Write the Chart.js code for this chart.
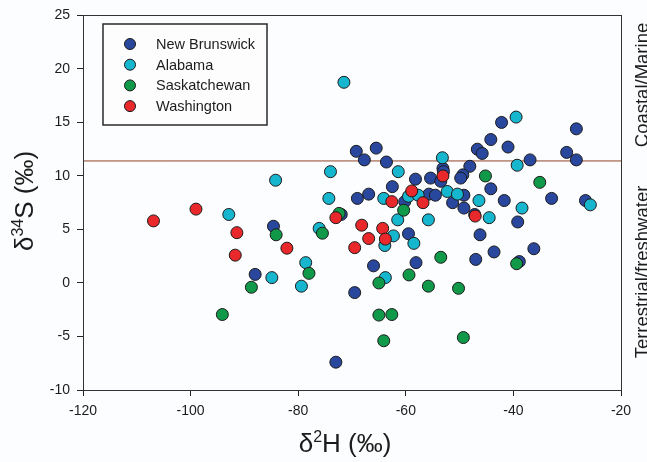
<!DOCTYPE html>
<html>
<head>
<meta charset="utf-8">
<script src="https://cdn.jsdelivr.net/npm/chart.js@4.4.1/dist/chart.umd.min.js"></script>
<style>
  html, body { margin: 0; padding: 0; background: #fcfdfe; }
  #wrap { width: 647px; height: 462px; }
</style>
</head>
<body>
<div id="wrap"><canvas id="chart" width="647" height="462"></canvas></div>
<script>
// d2H (x) , d34S (y) pairs
const newBrunswick = [
  [-84.6, 5.3], [-88.0, 0.8], [-69.2, 12.3], [-65.5, 12.6], [-67.7, 11.5],
  [-63.6, 11.3], [-58.2, 9.7], [-62.5, 9.0], [-66.9, 8.3], [-69.0, 7.9],
  [-72.0, 6.4], [-60.2, 7.6], [-55.7, 8.3], [-54.5, 8.2], [-49.2, 8.2],
  [-51.3, 7.5], [-49.2, 7.0], [-55.4, 9.8], [-53.1, 10.7], [-53.0, 10.4],
  [-53.5, 9.5], [-48.1, 10.9], [-49.4, 10.1], [-49.8, 9.8], [-46.7, 12.5],
  [-45.8, 12.1], [-44.2, 13.4], [-42.2, 15.0], [-41.0, 12.7], [-36.9, 11.5],
  [-30.1, 12.2], [-28.3, 11.5], [-28.3, 14.4], [-44.2, 8.8], [-41.7, 7.7],
  [-32.9, 7.9], [-26.6, 7.7], [-39.2, 5.7], [-47.2, 6.4], [-46.2, 4.5],
  [-59.5, 4.6], [-43.6, 2.9], [-47.0, 2.2], [-38.9, 2.0], [-36.2, 3.2],
  [-58.1, 1.9], [-66.0, 1.6], [-69.5, -0.9], [-73.0, -7.4]
];
const alabama = [
  [-71.5, 18.75], [-74.0, 10.4], [-61.4, 10.4], [-53.2, 11.7], [-39.5, 15.5],
  [-39.3, 11.0], [-74.3, 7.9], [-92.9, 6.4], [-84.2, 9.6], [-64.1, 7.9],
  [-59.5, 8.1], [-57.7, 8.2], [-52.3, 8.55], [-50.4, 8.3], [-46.4, 7.7],
  [-38.4, 7.0], [-25.7, 7.3], [-61.5, 5.9], [-55.8, 5.9], [-44.5, 6.1],
  [-76.1, 5.1], [-62.3, 4.4], [-58.5, 3.7], [-63.9, 3.5], [-78.6, 1.9],
  [-84.9, 0.5], [-79.4, -0.3], [-63.8, 0.5]
];
const saskatchewan = [
  [-84.1, 4.5], [-78.0, 0.9], [-88.7, -0.4], [-94.1, -2.95], [-75.5, 4.65],
  [-72.4, 6.5], [-60.4, 6.8], [-45.2, 10.0], [-35.1, 9.4], [-53.5, 2.4],
  [-39.4, 1.8], [-65.0, 0.0], [-59.4, 0.75], [-55.8, -0.3], [-50.2, -0.5],
  [-65.0, -3.0], [-62.6, -2.95], [-64.1, -5.4], [-49.3, -5.1]
];
const washington = [
  [-106.9, 5.8], [-99.0, 6.9], [-91.4, 4.7], [-82.1, 3.25], [-91.7, 2.6],
  [-73.0, 6.1], [-68.2, 5.4], [-64.3, 5.1], [-66.9, 4.15], [-63.8, 4.1],
  [-69.5, 3.3], [-62.6, 7.6], [-58.9, 8.6], [-56.8, 7.5], [-53.1, 10.0],
  [-47.1, 6.25]
];
const seriesNames = ['New Brunswick', 'Alabama', 'Saskatchewan', 'Washington'];
const xTicks = [-120, -100, -80, -60, -40, -20];
const yTicks = [-10, -5, 0, 5, 10, 15, 20, 25];
const marineBoundary = 11.4;
const zoneLabels = ['Coastal/Marine', 'Terrestrial/freshwater'];

const FONT = '"Liberation Sans", Arial, sans-serif';
const INK = '#1c1c1c';
const colors = ['#2a479e', '#17b6cf', '#11994a', '#e8282b'];

function pts(arr) {
  return arr.map(p => ({ x: p[0], y: p[1] }));
}

const seriesData = [newBrunswick, alabama, saskatchewan, washington];
const datasets = seriesData.map((arr, i) => ({
  label: seriesNames[i],
  data: pts(arr),
  backgroundColor: colors[i],
  borderColor: '#1a1a1a',
  borderWidth: 1,
  pointRadius: 6,
  pointHoverRadius: 6,
  order: 4 - i
}));
datasets.push({
  type: 'line',
  label: 'boundary',
  data: [{ x: -120, y: marineBoundary }, { x: -20, y: marineBoundary }],
  borderColor: '#8e4429',
  borderWidth: 1,
  pointRadius: 0,
  order: 10
});

// draw text with a superscript part, centred at (0,0) of the current transform
function drawSupText(ctx, parts, size) {
  const subSize = Math.round(size * 0.62);
  let total = 0;
  parts.forEach(p => {
    ctx.font = (p.sup ? subSize : size) + 'px ' + FONT;
    p.w = ctx.measureText(p.t).width;
    total += p.w;
  });
  let x = -total / 2;
  parts.forEach(p => {
    ctx.font = (p.sup ? subSize : size) + 'px ' + FONT;
    ctx.fillText(p.t, x, p.sup ? -size * 0.38 : 0);
    x += p.w;
  });
}

const decor = {
  id: 'decor',
  afterDraw(chart) {
    const ctx = chart.ctx;
    const a = chart.chartArea;
    ctx.save();
    // frame
    ctx.strokeStyle = '#333';
    ctx.lineWidth = 1;
    ctx.strokeRect(Math.round(a.left) + 0.5, Math.round(a.top) + 0.5,
      Math.round(a.right - a.left), Math.round(a.bottom - a.top));

    // legend
    ctx.fillStyle = '#fdfdfe';
    ctx.fillRect(103, 24, 164, 101);
    ctx.lineWidth = 1.5;
    ctx.strokeStyle = '#2a2a2a';
    ctx.strokeRect(103, 24, 164, 101);
    ctx.font = '14.5px ' + FONT;
    ctx.textBaseline = 'middle';
    ctx.textAlign = 'left';
    seriesNames.forEach((name, i) => {
      const y = 44 + i * 20.7;
      ctx.beginPath();
      ctx.arc(130, y, 5.5, 0, Math.PI * 2);
      ctx.fillStyle = colors[i];
      ctx.fill();
      ctx.lineWidth = 1;
      ctx.strokeStyle = '#1a1a1a';
      ctx.stroke();
      ctx.fillStyle = INK;
      ctx.fillText(name, 156, y + 1);
    });

    // axis titles
    ctx.fillStyle = INK;
    ctx.textBaseline = 'alphabetic';
    ctx.textAlign = 'left';
    ctx.save();
    ctx.translate(345, 452);
    drawSupText(ctx, [{ t: 'δ' }, { t: '2', sup: true }, { t: 'H (‰)' }], 26);
    ctx.restore();

    ctx.save();
    ctx.translate(33, 201);
    ctx.rotate(-Math.PI / 2);
    drawSupText(ctx, [{ t: 'δ' }, { t: '34', sup: true }, { t: 'S (‰)' }], 26);
    ctx.restore();

    // zone labels on the right
    ctx.font = '18.5px ' + FONT;
    ctx.textAlign = 'center';
    [[zoneLabels[0], 85], [zoneLabels[1], 272]].forEach(([t, y]) => {
      ctx.save();
      ctx.translate(648, y);
      ctx.rotate(-Math.PI / 2);
      ctx.fillText(t, 0, 0);
      ctx.restore();
    });
    ctx.restore();
  }
};

new Chart(document.getElementById('chart'), {
  type: 'scatter',
  data: { datasets: datasets },
  options: {
    responsive: false,
    animation: false,
    layout: { padding: { top: 12, right: 26, left: 0, bottom: 0 } },
    plugins: {
      legend: { display: false },
      tooltip: { enabled: false }
    },
    scales: {
      x: {
        type: 'linear',
        min: -120,
        max: -20,
        afterBuildTicks: s => { s.ticks = xTicks.map(v => ({ value: v })); },
        afterFit: s => { s.height = 72; },
        grid: { drawOnChartArea: false, drawTicks: true, tickLength: 6, color: '#222' },
        border: { color: '#222', width: 1 },
        ticks: { color: INK, padding: 7, font: { family: FONT, size: 14 } }
      },
      y: {
        type: 'linear',
        min: -10,
        max: 25,
        afterBuildTicks: s => { s.ticks = yTicks.map(v => ({ value: v })); },
        afterFit: s => { s.width = 83; },
        grid: { drawOnChartArea: false, drawTicks: true, tickLength: 6, color: '#222' },
        border: { color: '#222', width: 1 },
        ticks: { color: INK, padding: 7, font: { family: FONT, size: 14 } }
      }
    }
  },
  plugins: [decor]
});
</script>
</body>
</html>
